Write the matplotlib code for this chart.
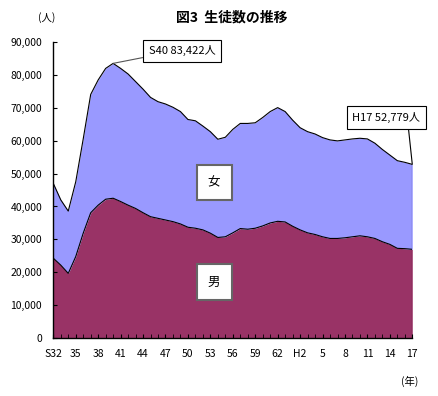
import matplotlib
matplotlib.use("Agg")
import matplotlib.pyplot as plt
import numpy as np

plt.rcParams['font.family'] = ['Noto Sans CJK JP', 'DejaVu Sans']

# S32 (1957) .. H17 (2005)
year_labels = ["S32", "35", "38", "41", "44", "47", "50", "53", "56",
               "59", "62", "H2", "5", "8", "11", "14", "17"]

male = [24300, 22200, 19700, 24800, 31900, 38100, 40400, 42200, 42500,
        41500, 40400, 39400, 38100, 36900, 36400, 35900, 35400, 34700,
        33700, 33400, 32900, 31900, 30600, 30800, 32000, 33300, 33100,
        33400, 34100, 35000, 35500, 35300, 34000, 32900, 32000, 31500,
        30800, 30300, 30300, 30500, 30800, 31100, 30800, 30300, 29300,
        28500, 27300, 27200, 27000]

female = [22700, 19800, 18900, 22700, 28600, 35900, 38000, 39700, 40922,
          40400, 39800, 38500, 37500, 36200, 35400, 35200, 34700, 34100,
          32700, 32600, 31500, 30800, 29800, 30200, 31400, 31900, 32100,
          32000, 32900, 33800, 34500, 33500, 32200, 31000, 30700, 30500,
          30100, 29900, 29600, 29700, 29700, 29600, 29700, 28900, 28000,
          27100, 26600, 26200, 25779]

x = np.arange(len(male))
male = np.array(male)
total = male + np.array(female)

fig = plt.figure(figsize=(4.38, 3.96), dpi=100)
ax = fig.add_axes([0.1217, 0.1457, 0.8196, 0.749])

ax.fill_between(x, 0, male, color='#993366', linewidth=0)
ax.fill_between(x, male, total, color='#9999FF', linewidth=0)
ax.plot(x, male, color='black', linewidth=0.8)
ax.plot(x, total, color='black', linewidth=0.8)
ax.plot([x[-1], x[-1]], [0, total[-1]], color='black', linewidth=0.8)

ax.set_xlim(0, len(x) - 1)
ax.set_ylim(0, 90000)
ax.set_yticks(np.arange(0, 90001, 10000))
ax.set_yticklabels([f"{v:,}" for v in range(0, 90001, 10000)], fontsize=7.5)
ax.set_xticks(np.arange(0, len(x), 3))
ax.set_xticklabels(year_labels, fontsize=7.5)
ax.set_xticks(x, minor=True)
ax.tick_params(axis='x', which='both', direction='in', length=3, pad=8)
ax.tick_params(axis='y', direction='in', length=3, pad=8)

for s in ['top', 'right']:
    ax.spines[s].set_visible(False)
for s in ['left', 'bottom']:
    ax.spines[s].set_linewidth(1.0)

# callouts
ax.annotate("S40 83,422人", xy=(8, total[8]), xytext=(17.2, 87200),
            fontsize=8, ha='center', va='center', annotation_clip=False,
            bbox=dict(boxstyle='square,pad=0.5', fc='white', ec='black', lw=0.8),
            arrowprops=dict(arrowstyle='-', color='#555555', lw=0.8,
                            relpos=(0, 0), shrinkA=0, shrinkB=0))
ax.annotate("H17 52,779人", xy=(48, total[48]), xytext=(44.5, 67000),
            fontsize=8, ha='center', va='center', annotation_clip=False,
            bbox=dict(boxstyle='square,pad=0.5', fc='white', ec='black', lw=0.8),
            arrowprops=dict(arrowstyle='-', color='black', lw=0.8,
                            relpos=(0.82, 0), shrinkA=0, shrinkB=0))

for label, yv in [("女", 47300), ("男", 17100)]:
    ax.text(21.5, yv, label, fontsize=9, ha='center', va='center',
            bbox=dict(boxstyle='square,pad=0.9', fc='white', ec='#666666', lw=1.5))

fig.text(0.53, 0.955, "図3  生徒数の推移", fontsize=10, fontweight='bold',
         ha='center', va='center')
fig.text(0.107, 0.955, "(人)", fontsize=7.5, ha='center', va='center')
fig.text(0.935, 0.038, "(年)", fontsize=7.5, ha='center', va='center')

fig.savefig("out.png", dpi=100)
